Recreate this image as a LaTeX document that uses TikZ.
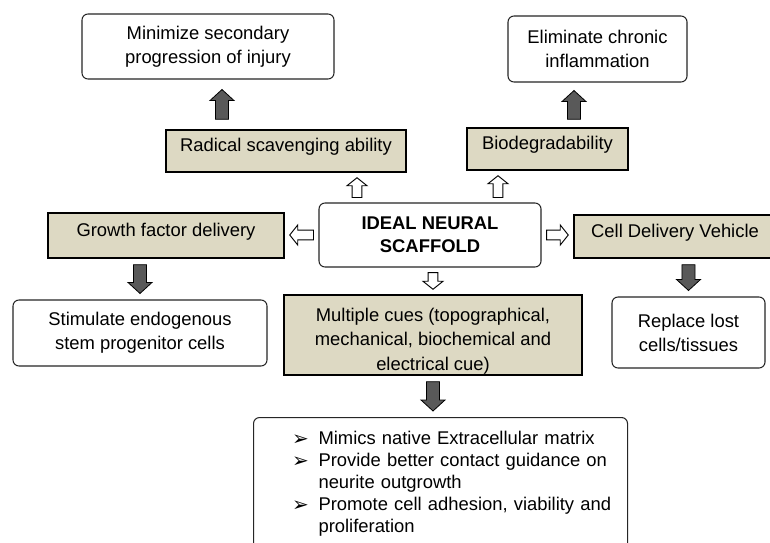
\documentclass[tikz,border=0pt]{standalone}
\usepackage{fontspec}
\setmainfont{Liberation Sans}
\newfontfamily\dingfont{DejaVu Sans}
\usepackage{tikz}
\usetikzlibrary{calc}
\definecolor{ScaffoldTan}{HTML}{DDD9C3}
\definecolor{ArrowGray}{HTML}{595959}
\newcommand{\bul}{\raisebox{-0.5pt}[0pt][0pt]{\dingfont\fontsize{15}{15}\selectfont ➢}}
\tikzset{
  blkgap/.store in=\blkgap, blkshaft/.store in=\blkshaft,
  blkwing/.store in=\blkwing, blkhead/.store in=\blkhead,
  blockarrow/.style={to path={
    ($(\tikztostart)!\blkgap!(\tikztotarget)$) coordinate (blk-s)
    ($(\tikztotarget)!\blkgap!(\tikztostart)$) coordinate (blk-e)
    ($(blk-e)!\blkhead!(blk-s)$) coordinate (blk-h)
    ($(blk-s)!\blkshaft!90:(blk-e)$) -- ($(blk-h)!\blkshaft!-90:(blk-s)$)
    -- ($(blk-h)!\blkwing!-90:(blk-s)$) -- (blk-e)
    -- ($(blk-h)!\blkwing!90:(blk-s)$) -- ($(blk-h)!\blkshaft!90:(blk-s)$)
    -- ($(blk-s)!\blkshaft!-90:(blk-e)$) -- cycle}},
  whitebox/.style={draw=black!85, line width=0.8pt, rounded corners=4.5pt, fill=white, align=center, inner sep=2pt, font=\fontsize{13.8}{18}\selectfont},
  tanbox/.style={draw=black, line width=1.1pt, fill=ScaffoldTan, align=center, inner sep=2pt, text height=10pt, text depth=9pt, font=\fontsize{13.8}{18}\selectfont},
  cuebox/.style={draw=black, line width=1.1pt, fill=ScaffoldTan, align=center, inner xsep=2pt, inner ysep=0pt, text height=55.8pt, text depth=3pt, font=\fontsize{13.8}{18.4}\selectfont},
  arr/.style={blockarrow, fill=ArrowGray, draw=black, line width=0.6pt, blkshaft=4.9pt, blkwing=9pt, blkhead=8.25pt, blkgap=4.5pt},
  harr/.style={blockarrow, fill=white, draw=black, line width=0.7pt, blkshaft=3.6pt, blkwing=7.5pt, blkhead=6pt, blkgap=3.75pt}
}
\begin{document}
\begin{tikzpicture}[x=0.75pt, y=-0.75pt]
\useasboundingbox[fill=white] (0,0) rectangle (770,542);
\node[whitebox, minimum width=189pt, minimum height=48.75pt] (minimize) at (208,46.5) {Minimize secondary\\progression of injury};
\node[whitebox, minimum width=134.25pt, minimum height=49.5pt] (eliminate) at (597.5,49) {Eliminate chronic\\inflammation};
\node[tanbox, minimum width=180pt, minimum height=31.5pt] (radical) at (286,151) {Radical scavenging ability};
\node[tanbox, minimum width=120.75pt, minimum height=31.5pt] (biodeg) at (547.5,149) {Biodegradability};
\node[whitebox, minimum width=166.5pt, minimum height=48pt, font=\fontsize{13.8}{17.5}\selectfont\bfseries] (ideal) at (430,235) {IDEAL NEURAL\\SCAFFOLD};
\node[tanbox, minimum width=177pt, minimum height=33.75pt] (growth) at (166,235.5) {Growth factor delivery};
\node[tanbox, minimum width=151.5pt, minimum height=32.25pt] (cell) at (675,236.5) {Cell Delivery Vehicle};
\node[whitebox, minimum width=190.5pt, minimum height=49.5pt] (stimulate) at (140,333) {Stimulate endogenous\\stem progenitor cells};
\node[cuebox, minimum width=223.5pt, minimum height=60pt] (multiple) at (433,335) {Multiple cues (topographical,\\mechanical, biochemical and\\electrical cue)};
\node[whitebox, minimum width=114.75pt, minimum height=53.25pt] (replace) at (688.5,332.5) {Replace lost\\cells/tissues};
\node[whitebox, anchor=north west, text width=280.5pt, inner xsep=0pt, inner ysep=10.5pt, align=left, text depth=120pt, font=\fontsize{13.8}{16.5}\selectfont] (props) at (253,417)
  {\hspace*{29pt}\makebox[19.75pt][l]{\bul}Mimics native Extracellular matrix\\
   \hspace*{29pt}\makebox[19.75pt][l]{\bul}Provide better contact guidance on\\
   \hspace*{48.75pt}neurite outgrowth\\
   \hspace*{29pt}\makebox[19.75pt][l]{\bul}Promote cell adhesion, viability and\\
   \hspace*{48.75pt}proliferation};
\draw[harr] ($(ideal.north)+(-73,0)$) to ($(radical.south)+(71,0)$);
\draw[harr] ($(ideal.north)+(68,0)$) to ($(biodeg.south)+(-49.5,0)$);
\draw[harr] (ideal.west) to (ideal.west -| growth.east);
\draw[harr] (ideal.east) to (ideal.east -| cell.west);
\draw[harr] (ideal.south -| multiple.north) to (multiple.north);
\draw[arr, blkgap=7.5pt] ($(radical.north)+(-64,0)$) to ($(minimize.south)+(14,0)$);
\draw[arr, blkgap=6pt] ($(biodeg.north)+(26.5,0)$) to ($(eliminate.south)+(-23.5,0)$);
\draw[arr] (growth.south -| stimulate.north) to (stimulate.north);
\draw[arr] (cell.south -| replace.north) to (replace.north);
\draw[arr] (multiple.south) to (multiple.south |- props.north);
\end{tikzpicture}
\end{document}
